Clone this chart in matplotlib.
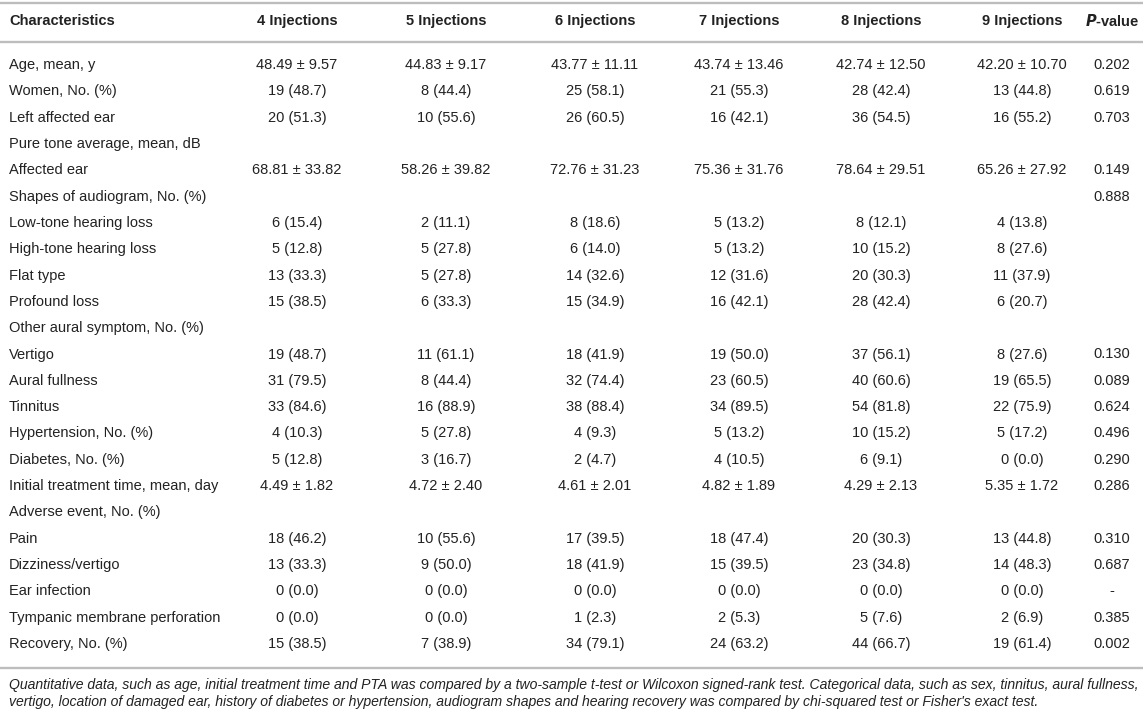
import matplotlib.pyplot as plt

plt.rcParams["font.family"] = ["Liberation Sans", "DejaVu Sans"]

columns = ["4 Injections", "5 Injections", "6 Injections", "7 Injections",
           "8 Injections", "9 Injections"]

characteristics = [
    "Age, mean, y", "Women, No. (%)", "Left affected ear",
    "Pure tone average, mean, dB", "Affected ear",
    "Shapes of audiogram, No. (%)", "Low-tone hearing loss",
    "High-tone hearing loss", "Flat type", "Profound loss",
    "Other aural symptom, No. (%)", "Vertigo", "Aural fullness", "Tinnitus",
    "Hypertension, No. (%)", "Diabetes, No. (%)",
    "Initial treatment time, mean, day", "Adverse event, No. (%)", "Pain",
    "Dizziness/vertigo", "Ear infection", "Tympanic membrane perforation",
    "Recovery, No. (%)",
]

inj4 = ["48.49 ± 9.57", "19 (48.7)", "20 (51.3)", "", "68.81 ± 33.82", "",
        "6 (15.4)", "5 (12.8)", "13 (33.3)", "15 (38.5)", "", "19 (48.7)",
        "31 (79.5)", "33 (84.6)", "4 (10.3)", "5 (12.8)", "4.49 ± 1.82", "",
        "18 (46.2)", "13 (33.3)", "0 (0.0)", "0 (0.0)", "15 (38.5)"]
inj5 = ["44.83 ± 9.17", "8 (44.4)", "10 (55.6)", "", "58.26 ± 39.82", "",
        "2 (11.1)", "5 (27.8)", "5 (27.8)", "6 (33.3)", "", "11 (61.1)",
        "8 (44.4)", "16 (88.9)", "5 (27.8)", "3 (16.7)", "4.72 ± 2.40", "",
        "10 (55.6)", "9 (50.0)", "0 (0.0)", "0 (0.0)", "7 (38.9)"]
inj6 = ["43.77 ± 11.11", "25 (58.1)", "26 (60.5)", "", "72.76 ± 31.23", "",
        "8 (18.6)", "6 (14.0)", "14 (32.6)", "15 (34.9)", "", "18 (41.9)",
        "32 (74.4)", "38 (88.4)", "4 (9.3)", "2 (4.7)", "4.61 ± 2.01", "",
        "17 (39.5)", "18 (41.9)", "0 (0.0)", "1 (2.3)", "34 (79.1)"]
inj7 = ["43.74 ± 13.46", "21 (55.3)", "16 (42.1)", "", "75.36 ± 31.76", "",
        "5 (13.2)", "5 (13.2)", "12 (31.6)", "16 (42.1)", "", "19 (50.0)",
        "23 (60.5)", "34 (89.5)", "5 (13.2)", "4 (10.5)", "4.82 ± 1.89", "",
        "18 (47.4)", "15 (39.5)", "0 (0.0)", "2 (5.3)", "24 (63.2)"]
inj8 = ["42.74 ± 12.50", "28 (42.4)", "36 (54.5)", "", "78.64 ± 29.51", "",
        "8 (12.1)", "10 (15.2)", "20 (30.3)", "28 (42.4)", "", "37 (56.1)",
        "40 (60.6)", "54 (81.8)", "10 (15.2)", "6 (9.1)", "4.29 ± 2.13", "",
        "20 (30.3)", "23 (34.8)", "0 (0.0)", "5 (7.6)", "44 (66.7)"]
inj9 = ["42.20 ± 10.70", "13 (44.8)", "16 (55.2)", "", "65.26 ± 27.92", "",
        "4 (13.8)", "8 (27.6)", "11 (37.9)", "6 (20.7)", "", "8 (27.6)",
        "19 (65.5)", "22 (75.9)", "5 (17.2)", "0 (0.0)", "5.35 ± 1.72", "",
        "13 (44.8)", "14 (48.3)", "0 (0.0)", "2 (6.9)", "19 (61.4)"]
p_values = ["0.202", "0.619", "0.703", "", "0.149", "0.888", "", "", "", "",
            "", "0.130", "0.089", "0.624", "0.496", "0.290", "0.286", "",
            "0.310", "0.687", "-", "0.385", "0.002"]

footnote = [
    "Quantitative data, such as age, initial treatment time and PTA was compared by a "
    "two-sample t-test or Wilcoxon signed-rank test. Categorical data, such as sex, "
    "tinnitus, aural fullness,",
    "vertigo, location of damaged ear, history of diabetes or hypertension, audiogram "
    "shapes and hearing recovery was compared by chi-squared test or Fisher's exact test.",
]

W, H = 1143, 716
fig = plt.figure(figsize=(W / 100, H / 100), dpi=100)
ax = fig.add_axes([0, 0, 1, 1])
ax.set_xlim(0, W)
ax.set_ylim(H, 0)
ax.axis("off")

text_color = "#222222"
line_color = "#bdbdbd"
fs = 10.5

col_x = [297, 446, 595, 739, 881, 1022]
p_x = 1112
label_x = 9

# rules
for y in (3, 42, 668):
    ax.plot([0, W], [y, y], color=line_color, lw=1.7, solid_capstyle="butt")

# header
header_y = 21
ax.text(label_x, header_y, "Characteristics", fontsize=fs, fontweight="bold",
        color=text_color, va="center", ha="left")
for x, name in zip(col_x, columns):
    ax.text(x, header_y, name, fontsize=fs, fontweight="bold",
            color=text_color, va="center", ha="center")
ax.text(p_x, header_y, r"$\bfit{P}$" + "-value", fontsize=fs, fontweight="bold",
        color=text_color, va="center", ha="center")

# body rows
row_top = 65
row_step = (644 - 65) / (len(characteristics) - 1)
series = [inj4, inj5, inj6, inj7, inj8, inj9]
for i, label in enumerate(characteristics):
    y = row_top + i * row_step
    ax.text(label_x, y, label, fontsize=fs, color=text_color,
            va="center", ha="left")
    for x, values in zip(col_x, series):
        if values[i]:
            ax.text(x, y, values[i], fontsize=fs, color=text_color,
                    va="center", ha="center")
    if p_values[i]:
        ax.text(p_x, y, p_values[i], fontsize=fs, color=text_color,
                va="center", ha="center")

# footnote
for j, line in enumerate(footnote):
    ax.text(label_x, 685 + j * 17, line, fontsize=10.05, style="italic",
            color=text_color, va="center", ha="left")

fig.savefig("out.png", dpi=100)
